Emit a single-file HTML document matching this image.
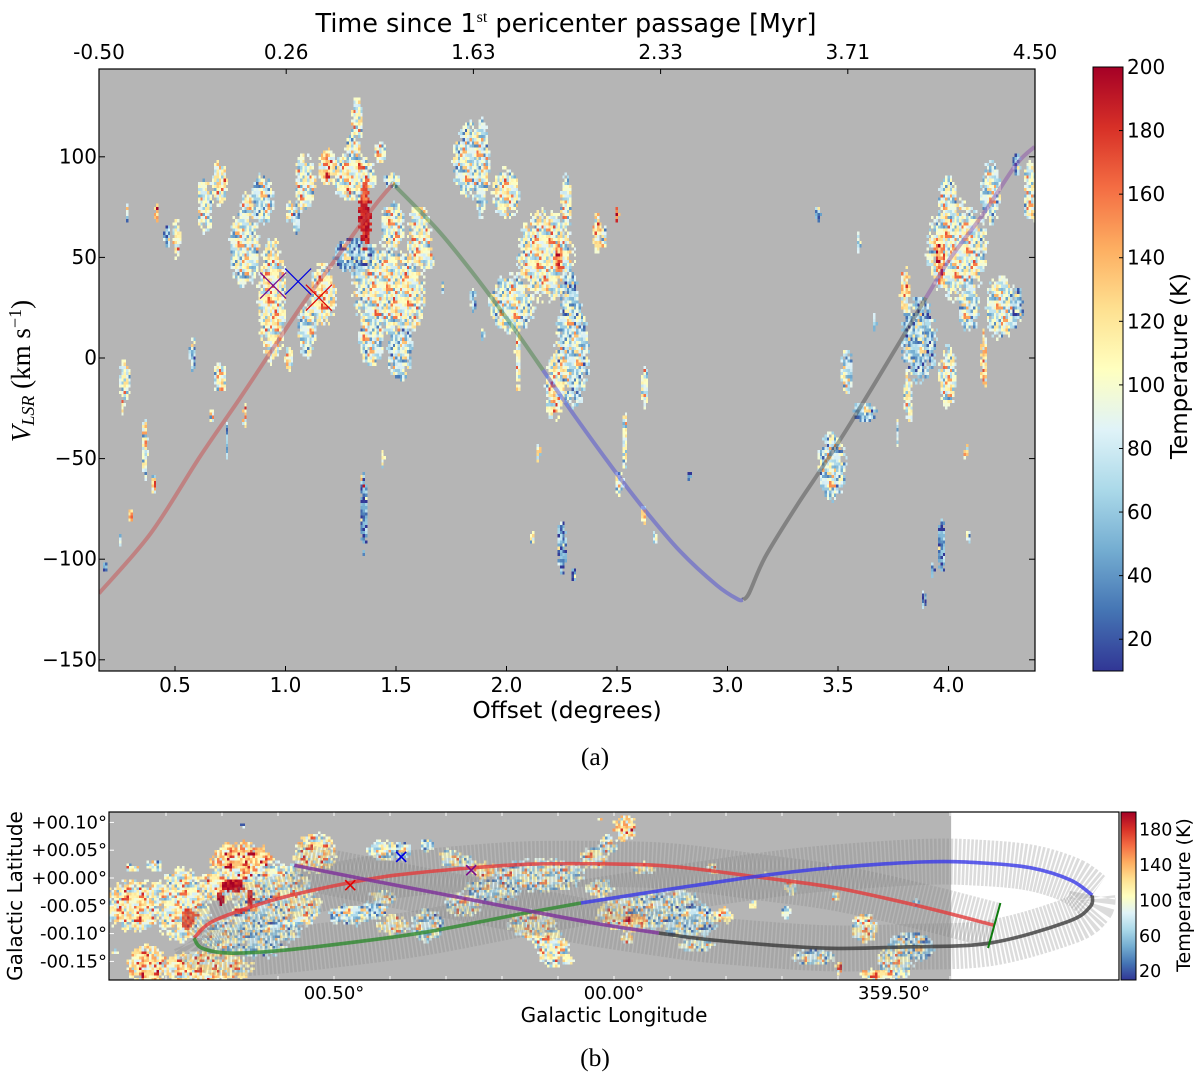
<!DOCTYPE html>
<html lang="en">
<head>
<meta charset="utf-8">
<title>Orbit position-velocity and longitude-latitude temperature maps</title>
<style>
html,body{margin:0;padding:0;background:#fff;}
svg{display:block;}
text{font-family:"DejaVu Sans","Liberation Sans",sans-serif;fill:#000;}
.serif{font-family:"Liberation Serif",serif;}
</style>
</head>
<body>
<svg id="figure" xmlns="http://www.w3.org/2000/svg" width="1200" height="1075" viewBox="0 0 1200 1075">
  <defs>
    <clipPath id="clip-a"><rect x="99" y="69" width="936" height="602"/></clipPath>
    <clipPath id="clip-b"><rect x="109" y="812" width="1010" height="168"/></clipPath>
    <linearGradient id="cmap" x1="0" y1="1" x2="0" y2="0"></linearGradient>
  </defs>
  <g id="panel-a">
    <rect x="99" y="69" width="936" height="602" fill="#b5b5b5"/>
    <g id="heat-a" clip-path="url(#clip-a)" shape-rendering="crispEdges"></g>
    <g id="lines-a" clip-path="url(#clip-a)" fill="none"></g>
    <g id="markers-a" clip-path="url(#clip-a)"></g>
    <g id="ticks-a"></g>
    <rect x="99" y="69" width="936" height="602" fill="none" stroke="#000" stroke-width="1.2"/>
    <text x="566" y="32" text-anchor="middle" font-size="25.5">Time since 1<tspan class="serif" font-size="16" dy="-10">st</tspan><tspan dy="10"> pericenter passage [Myr]</tspan></text>
    <text x="567" y="718" text-anchor="middle" font-size="23.3">Offset (degrees)</text>
    <text class="serif" transform="translate(30,371) rotate(-90)" text-anchor="middle" font-size="27"><tspan font-style="italic">V</tspan><tspan font-style="italic" font-size="18" dy="4">LSR</tspan><tspan dy="-4"> (km s</tspan><tspan font-size="18" dy="-9">−1</tspan><tspan dy="9">)</tspan></text>
    <rect x="1093" y="67" width="30" height="604" fill="url(#cmap)" stroke="#000" stroke-width="1"/>
    <g id="cbar-a"></g>
    <text transform="translate(1187,366) rotate(-90)" text-anchor="middle" font-size="23">Temperature (K)</text>
    <text class="serif" x="595" y="765" text-anchor="middle" font-size="25.5">(a)</text>
  </g>
  <g id="panel-b">
    <rect x="109" y="812" width="1010" height="168" fill="#fff"/>
    <rect id="survey-b" fill="#b5b5b5"/>
    <g id="heat-b" clip-path="url(#clip-b)" shape-rendering="crispEdges"></g>
    <g id="ribbons-b" clip-path="url(#clip-b)" fill="none"></g>
    <g id="lines-b" clip-path="url(#clip-b)" fill="none"></g>
    <g id="markers-b" clip-path="url(#clip-b)"></g>
    <g id="ticks-b"></g>
    <rect x="109" y="812" width="1010" height="168" fill="none" stroke="#000" stroke-width="1.2"/>
    <text x="614" y="1022" text-anchor="middle" font-size="20">Galactic Longitude</text>
    <text transform="translate(22,896) rotate(-90)" text-anchor="middle" font-size="20">Galactic Latitude</text>
    <rect x="1121" y="812" width="15" height="168" fill="url(#cmap)" stroke="#000" stroke-width="1"/>
    <g id="cbar-b"></g>
    <text transform="translate(1190,895) rotate(-90)" text-anchor="middle" font-size="19">Temperature (K)</text>
    <text class="serif" x="595" y="1066" text-anchor="middle" font-size="25.5">(b)</text>
  </g>
</svg>
<script>
// ---- Panel (a) axis data ----
const offsetTicks = [0.5, 1.0, 1.5, 2.0, 2.5, 3.0, 3.5, 4.0];
const velocityTicks = [100, 50, 0, -50, -100, -150];
const timeLabels = ["-0.50", "0.26", "1.63", "2.33", "3.71", "4.50"];
const colorbarATicks = [200, 180, 160, 140, 120, 100, 80, 60, 40, 20];

// Orbit track in (offset deg, velocity km/s)
const trackRedA = [[0.156,-117],[0.391,-87],[0.613,-49],[0.794,-20],[0.939,4],[1.079,27],[1.233,50],[1.324,64],[1.42,78],[1.486,86.5]];
const trackGreenA = [[1.486,86.5],[1.505,84.5],[1.686,64],[1.821,46],[1.939,29],[2.048,12.5],[2.165,-6]];
const trackBlueA = [[2.165,-6],[2.31,-29],[2.482,-55],[2.622,-75],[2.785,-96],[2.952,-113],[3.048,-120],[3.07,-120]];
const trackGrayA = [[3.07,-120],[3.097,-117],[3.17,-99],[3.31,-74],[3.419,-56],[3.559,-32],[3.785,9],[3.898,30]];
const trackPurpleA = [[3.898,30],[4.011,50],[4.16,72],[4.305,96],[4.39,105]];

// Source markers (offset, velocity)
const markerPurpleA = [0.944, 36];
const markerBlueA = [1.057, 38];
const markerRedA = [1.151, 30];

// Emission clumps: [offset, velocity, half-width deg, half-height km/s, mean temperature K]
const clumpsA = [
[1.305,90,.10,12,105],[1.324,118,.027,11,105],[1.305,104,.036,7,95],[1.188,95,.04,9,125],[1.089,87,.05,14,100],
[1.428,102,.023,6,100],[1.482,88,.036,4,90],[.703,87,.032,11,115],[.636,76,.036,14,100],[.898,79,.05,12,85],
[.826,74,.027,10,105],[.817,55,.068,20,95],[.939,29,.063,30,110],[1.016,-1,.018,7,110],[1.097,14,.041,14,90],
[1.17,32,.059,16,110],[1.02,72,.018,6,110],[1.05,69,.014,8,85],[.58,2.5,.014,9,70],[.703,-10,.03,8,100],
[.274,-11,.027,10,105],[.509,60,.018,10,115],[.464,60,.014,6,65],[.418,72,.009,5,145],[.283,72,.009,5,80],
[.364,-46,.014,15,95],[.405,-62,.012,5,115],[.30,-78,.009,4.5,130],[.25,-90,.006,4,60],[.183,-104,.004,4,40],
[.735,-41,.009,10,70],[.667,-29,.008,5,85],[.817,-29,.011,7,110],[.265,-24,.008,4,110],[1.441,-50,.005,5,110],
[1.45,34,.145,22,100],[1.54,31,.09,21,105],[1.39,11,.06,15,90],[1.518,4,.055,15,85],[1.608,59,.055,17,105],
[1.486,66,.055,11,100],[1.652,49,.023,6,100],[1.71,34,.006,3,50],[1.848,29,.012,8,65],[1.893,12,.008,4,75],
[1.305,51,.09,9,65],[1.35,-62,.012,4,130],[1.355,-77,.016,19,50],
[1.835,98,.077,19,90],[1.889,95,.032,25,90],[2.0,82,.063,12,105],[2.025,27,.10,15,95],[2.175,51,.127,22,105],
[2.27,76,.027,16,100],[2.288,25,.041,20,70],[2.296,2,.077,27,85],[2.22,-14,.045,16,110],[2.052,0,.014,17,115],
[2.238,50,.018,7,155],[2.41,62,.018,10,125],[2.441,59,.014,7,75],[2.50,71,.009,5,155],[2.627,-14,.014,11,105],
[2.206,-24,.027,6,105],[2.536,-42,.014,15,105],[2.51,-62,.02,6,100],[2.622,-77,.012,5,130],[2.672,-90,.005,3.5,70],
[2.83,-59,.004,2.5,30],[2.146,-47,.008,5,125],[2.116,-90,.004,3.5,110],[2.25,-94,.02,14,55],[2.305,-108,.004,2,40],
[3.41,72,.014,3,50],[3.595,58,.008,6,75],[3.667,18,.008,5,85],[4.04,54,.136,24,100],[3.865,9,.08,21,70],
[4.192,82,.045,15,90],[3.997,79,.045,11,95],[3.803,34,.023,11,125],[4.238,25,.068,16,95],[4.093,25,.045,12,85],
[3.998,-9,.04,15,100],[4.16,-1,.014,15,125],[3.817,-19,.018,11,105],[4.37,82,.032,16,100],[4.314,25,.023,10,60],
[4.31,97,.018,6,60],[3.54,-7,.027,12,85],[3.62,-27,.054,5,70],[3.473,-54,.063,17,85],[3.77,-37,.009,7,85],
[3.825,-26,.012,7,110],[4.08,-47,.009,4,135],[3.97,-94,.018,15,55],[3.93,-106,.006,4.5,50],[3.89,-120,.006,6,45],
[4.09,-89,.004,4,70],[3.96,49,.023,12,150],[1.36,70,.03,17,190],[1.36,82,.018,6,170]
];

// ---- Panel (b) axis data ----
const longitudeLabels = ["00.50°", "00.00°", "359.50°"];
const longitudeLabelValues = [0.5, 0.0, -0.5];
const longitudeMinorTicks = [0.8,0.7,0.6,0.5,0.4,0.3,0.2,0.1,0,-0.1,-0.2,-0.3,-0.4,-0.5,-0.6];
const latitudeLabels = ["+00.10°", "+00.05°", "+00.00°", "-00.05°", "-00.10°", "-00.15°"];
const latitudeValues = [0.10, 0.05, 0.0, -0.05, -0.10, -0.15];
const colorbarBTicks = [180, 140, 100, 60, 20];

// Orbit in (longitude, latitude) degrees, negative longitudes are 360-|l|
const trackRedB = [[.75,-.108],[.722,-.081],[.666,-.058],[.588,-.034],[.475,-.009],[.391,.005],[.257,.018],[.143,.025],[-.005,.025],[-.113,.020],[-.270,0],[-.398,-.018],[-.543,-.050],[-.679,-.085]];
const trackGreenB = [[.75,-.108],[.736,-.126],[.688,-.135],[.602,-.131],[.461,-.115],[.334,-.097],[.179,-.067],[.059,-.045]];
const trackBlueB = [[.059,-.045],[-.011,-.034],[-.113,-.018],[-.270,.005],[-.386,.018],[-.555,.029],[-.659,.027],[-.746,.018],[-.816,-.004],[-.854,-.031]];
const trackGrayB = [[-.854,-.031],[-.85,-.052],[-.809,-.079],[-.671,-.117],[-.521,-.124],[-.371,-.126],[-.180,-.112],[-.080,-.099]];
const trackPurpleB = [[.571,.023],[.446,-.002],[.271,-.036],[.143,-.061],[.025,-.083],[-.080,-.099]];
const startBarB = [[-.69,-.045],[-.668,-.126]];
const markerRedB = [.471,-.013];
const markerBlueB = [.38,.038];
const markerPurpleB = [.255,.014];
const surveyEdgeLongitude = -0.602;

// Emission clumps: [longitude, latitude, half-width deg, half-height deg, mean temperature K]
const clumpsB = [
[.855,-.049,.048,.04,115],[.771,-.049,.043,.056,105],[.664,.027,.048,.034,135],[.60,-.018,.048,.04,100],
[.534,.045,.032,.031,115],[.623,-.076,.054,.05,85],[.561,-.049,.032,.032,105],[.471,-.067,.036,.016,85],
[.686,-.103,.045,.027,95],[.832,-.156,.032,.031,125],[.73,-.162,.071,.025,120],[.629,-.108,.039,.032,80],
[.82,.023,.013,.009,85],[.86,.018,.011,.007,110],[.891,-.133,.004,.005,100],[.694,-.013,.045,.025,115],
[.663,.095,.004,.004,70],
[.413,.049,.025,.016,95],[.379,.049,.014,.014,80],[.334,.058,.011,.009,85],[.293,.036,.018,.014,100],
[.262,.027,.014,.011,90],[.23,.013,.018,.013,125],[.43,-.059,.023,.014,75],[.395,-.085,.025,.016,110],
[.334,-.085,.025,.025,85],[.414,-.036,.021,.011,100],[.186,0,.027,.018,110],[.132,.005,.068,.025,92],
[.216,-.023,.045,.018,85],[.27,-.049,.027,.018,100],[.037,.036,.021,.018,105],[.011,.059,.014,.016,95],
[-.02,.09,.018,.02,130],[.025,.104,.005,.004,70],[.145,-.085,.036,.022,105],[.12,-.108,.027,.014,110],
[.109,-.131,.025,.025,105],[.079,-.149,.007,.007,110],[.025,-.018,.021,.014,100],[-.023,-.067,.045,.025,115],
[-.082,-.059,.054,.029,88],[-.13,-.077,.045,.029,78],[-.195,-.067,.016,.013,115],[-.118,-.036,.027,.011,90],
[-.148,-.12,.027,.011,95],[-.023,-.108,.009,.009,110],[-.052,.018,.018,.009,100],[-.177,.018,.009,.009,110],
[-.034,-.077,.018,.009,140],
[-.386,.02,.005,.005,110],[-.27,.005,.005,.005,100],[-.316,-.016,.009,.013,100],[-.395,-.034,.007,.007,95],
[-.248,-.049,.007,.007,110],[-.307,-.061,.007,.011,95],[-.54,-.045,.005,.007,80],[-.447,-.09,.021,.022,110],
[-.532,-.124,.036,.023,80],[-.502,-.153,.027,.027,100],[-.466,-.174,.025,.009,120],[-.357,-.142,.032,.013,85],
[-.402,-.16,.005,.011,120],
[.761,-.072,.012,.022,172],[.68,-.014,.023,.013,195],[.65,-.036,.007,.018,190],[.702,-.036,.007,.016,190],[.666,-.059,.011,.005,190]
];

// Fine-grain texture added to each clump's mean temperature (an approximation of the pixel noise)
const speckle = [-18,32,6,-40,95,12,-8,24,-62,3,48,-25,105,9,-14,30,-48,18,-3,88,-30,14,40,-70,5,22,-12,100,-35,8,28,-20,60,-55,2,16,-9,92,-28,35,10,-45,20,-5,110,-16,26,-65,7,44,-22,13,85,-38,1,31,-10,-52,98,11,-26,38,4,-42,72,17,-7,25,-60,108,-15,34,6,-33,15,52,-19,90,-50,9,23,-4,-36,82,29,-11,12,-68,42,102,-24,19,-2,36,-46,78,10];
const speckleBias = -11;

// RdYlBu_r colormap
const cmapStops = ["#313695","#4575b4","#74add1","#abd9e9","#e0f3f8","#ffffbf","#fee090","#fdae61","#f46d43","#d73027","#a50026"];
const tempMin = 10, tempMax = 200;

// ---- Scales ----
const xA = o => 175 + (o - 0.5) * 221;
const yA = v => 358 - v * 2.012;
const yBar = t => 671 - (t - tempMin) * (604 / (tempMax - tempMin));
const xB = l => 334 + (0.5 - l) * 560;
const yB = b => 878 - b * 556;
const yBarB = t => 980 - (t - tempMin) * (168 / (tempMax - tempMin));

const NS = "http://www.w3.org/2000/svg";
function mk(tag, parentId, attrs) {
  const el = document.createElementNS(NS, tag);
  for (const k in attrs) el.setAttribute(k, attrs[k]);
  document.getElementById(parentId).appendChild(el);
  return el;
}
function hexRgb(h) { return [1,3,5].map(i => parseInt(h.substr(i,2),16)); }
const cmapRgb = cmapStops.map(hexRgb);
function tempColor(t) {
  const f = Math.max(0, Math.min(0.9999, (t - tempMin) / (tempMax - tempMin))) * (cmapRgb.length - 1);
  const i = Math.floor(f), w = f - i;
  const c = cmapRgb[i].map((v, k) => Math.round(v + (cmapRgb[i + 1][k] - v) * w));
  return "rgb(" + c.join(",") + ")";
}
function smooth(pts) {
  let d = "M" + pts[0][0] + " " + pts[0][1];
  for (let i = 0; i < pts.length - 1; i++) {
    const p0 = pts[Math.max(0, i - 1)], p1 = pts[i], p2 = pts[i + 1], p3 = pts[Math.min(pts.length - 1, i + 2)];
    const c1x = p1[0] + (p2[0] - p0[0]) / 6, c1y = p1[1] + (p2[1] - p0[1]) / 6;
    const c2x = p2[0] - (p3[0] - p1[0]) / 6, c2y = p2[1] - (p3[1] - p1[1]) / 6;
    d += "C" + c1x.toFixed(2) + " " + c1y.toFixed(2) + " " + c2x.toFixed(2) + " " + c2y.toFixed(2) + " " + p2[0].toFixed(2) + " " + p2[1].toFixed(2);
  }
  return d;
}

// Colour bar gradient
cmapStops.forEach((c, i) => {
  const s = mk("stop", "cmap", { offset: (i / (cmapStops.length - 1)), "stop-color": c });
  
  
});

// Heatmaps: clump records become grid cells via the axis functions
function drawHeat(clumps, parentId, xf, yf, du, dv, minU, minV, spread) {
  const cells = new Map();
  clumps.forEach(c => {
    const grow = c[4] > 165 ? 1 : spread;
    const ru = Math.max(c[2], minU) * grow, rv = Math.max(c[3], minV) * grow;
    const iMin = Math.floor((c[0] - ru) / du), iMax = Math.ceil((c[0] + ru) / du);
    const jMin = Math.floor((c[1] - rv) / dv), jMax = Math.ceil((c[1] + rv) / dv);
    for (let i = iMin; i <= iMax; i++) {
      for (let j = jMin; j <= jMax; j++) {
        const a = (i * du - c[0]) / ru, b = (j * dv - c[1]) / rv, r2 = a * a + b * b;
        const idx = (((i * 31 + j * 17) % speckle.length) + speckle.length) % speckle.length;
        const dev = speckle[idx];
        if (r2 >= 1 - Math.min(1, Math.abs(dev) / 110) * 0.7) continue;
        const scale = (c[4] > 165 ? 0.3 : 1) * (0.6 + 0.55 * r2);
        cells.set(i + "," + j, c[4] + (dev + speckleBias) * scale);
      }
    }
  });
  const wu = Math.abs(xf(du) - xf(0)), hv = Math.abs(yf(dv) - yf(0));
  cells.forEach((t, key) => {
    const p = key.split(",").map(Number);
    const cx = xf(p[0] * du), cy = yf(p[1] * dv);
    const r = mk("rect", parentId, { x: (cx - wu / 2).toFixed(2), y: (cy - hv / 2).toFixed(2), width: wu.toFixed(2), height: hv.toFixed(2), fill: tempColor(t) });
    
    
  });
}
drawHeat(clumpsA, "heat-a", xA, yA, 0.0105, 1.55, 0.0075, 4, 1.1);
drawHeat(clumpsB, "heat-b", xB, yB, 0.0045, 0.0048, 0.004, 0.004, 1.28);

// Panel (a) track
[[trackRedA, "#c44", "track-red-a"], [trackGreenA, "#3d7f3d", "track-green-a"], [trackBlueA, "#4343d8", "track-blue-a"], [trackGrayA, "#444", "track-gray-a"], [trackPurpleA, "#8a4aa8", "track-purple-a"]].forEach(s => {
  const pts = s[0].map(p => [xA(p[0]), yA(p[1])]);
  const el = mk("path", "lines-a", { d: smooth(pts), stroke: s[1], "stroke-width": 4, opacity: 0.45 });
  
  
});
function cross(parentId, cx, cy, r, color, w) {
  [[-1, -1, 1, 1], [-1, 1, 1, -1]].forEach(q => {
    const l = mk("line", parentId, { x1: cx + q[0] * r, y1: cy + q[1] * r, x2: cx + q[2] * r, y2: cy + q[3] * r, stroke: color, "stroke-width": w });
    
    
  });
}
cross("markers-a", xA(markerPurpleA[0]), yA(markerPurpleA[1]), 13, "#7a0a8a", 1.2);
cross("markers-a", xA(markerBlueA[0]), yA(markerBlueA[1]), 13, "#0000e0", 1.2);
cross("markers-a", xA(markerRedA[0]), yA(markerRedA[1]), 13, "#e00000", 1.2);

// Panel (a) axes
function tick(parentId, x1, y1, x2, y2, color, name) {
  const l = mk("line", parentId, { x1: x1, y1: y1, x2: x2, y2: y2, stroke: color, "stroke-width": 1 });
  
  
}
function label(parentId, x, y, str, size, anchor, name) {
  const t = mk("text", parentId, { x: x, y: y, "font-size": size, "text-anchor": anchor });
  t.textContent = str;
  
  
}
offsetTicks.forEach(o => {
  tick("ticks-a", xA(o), 671, xA(o), 666, "#000", "x-tick-a");
  label("ticks-a", xA(o), 692, o.toFixed(1), 20, "middle", "x-tick-label-a");
});
velocityTicks.forEach(v => {
  tick("ticks-a", 99, yA(v), 105, yA(v), "#000", "y-tick-a");
  tick("ticks-a", 1035, yA(v), 1029, yA(v), "#000", "y-tick-right-a");
  label("ticks-a", 97, yA(v) + 6.5, String(v).replace("-", "−"), 20, "end", "y-tick-label-a");
});
timeLabels.forEach((s, i) => {
  const x = 99 + i * 936 / (timeLabels.length - 1);
  tick("ticks-a", x, 69, x, 74, "#000", "top-tick");
  label("ticks-a", x, 59, s, 20, "middle", "top-tick-label");
});
colorbarATicks.forEach(t => {
  tick("cbar-a", 1123, yBar(t), 1119, yBar(t), "#000", "colorbar-a-tick");
  label("cbar-a", 1127, yBar(t) + 7, String(t), 20, "start", "colorbar-a-label");
});

// Panel (b)
const survey = document.getElementById("survey-b");
survey.setAttribute("x", 109);
survey.setAttribute("y", 812);
survey.setAttribute("width", xB(surveyEdgeLongitude) - 109);
survey.setAttribute("height", 168);

const tracksB = [[trackRedB, "#e23c3c", "track-red-b"], [trackGreenB, "#2f8a2f", "track-green-b"], [trackBlueB, "#3a3ae8", "track-blue-b"], [trackGrayB, "#3c3c3c", "track-gray-b"], [trackPurpleB, "#7d2f9a", "track-purple-b"]];
tracksB.forEach(s => {
  const pts = s[0].map(p => [xB(p[0]), yB(p[1])]);
  const rb = mk("path", "ribbons-b", { d: smooth(pts), stroke: "#808080", "stroke-width": 46, "stroke-dasharray": "2.6 1.4", opacity: 0.28 });
  
  
  const el = mk("path", "lines-b", { d: smooth(pts), stroke: s[1], "stroke-width": 3.6, opacity: 0.8 });
  
  
});
const startBar = mk("line", "lines-b", { x1: xB(startBarB[0][0]), y1: yB(startBarB[0][1]), x2: xB(startBarB[1][0]), y2: yB(startBarB[1][1]), stroke: "#0d7a0d", "stroke-width": 2 });


cross("markers-b", xB(markerRedB[0]), yB(markerRedB[1]), 5, "#e00000", 1.6);
cross("markers-b", xB(markerBlueB[0]), yB(markerBlueB[1]), 5, "#0000e0", 1.6);
cross("markers-b", xB(markerPurpleB[0]), yB(markerPurpleB[1]), 5, "#7a0a8a", 1.6);

longitudeMinorTicks.forEach(l => {
  tick("ticks-b", xB(l), 812, xB(l), 816, "#fff", "top-tick-b");
  tick("ticks-b", xB(l), 980, xB(l), 976, "#fff", "bottom-tick-b");
});
longitudeLabels.forEach((s, i) => {
  label("ticks-b", xB(longitudeLabelValues[i]), 999, s, 18, "middle", "x-tick-label-b");
});
latitudeLabels.forEach((s, i) => {
  tick("ticks-b", 109, yB(latitudeValues[i]), 114, yB(latitudeValues[i]), "#fff", "y-tick-b");
  label("ticks-b", 107, yB(latitudeValues[i]) + 6, s, 18, "end", "y-tick-label-b");
});
colorbarBTicks.forEach(t => {
  label("cbar-b", 1139, yBarB(t) + 6, String(t), 17.5, "start", "colorbar-b-label");
});
</script>
</body>
</html>
